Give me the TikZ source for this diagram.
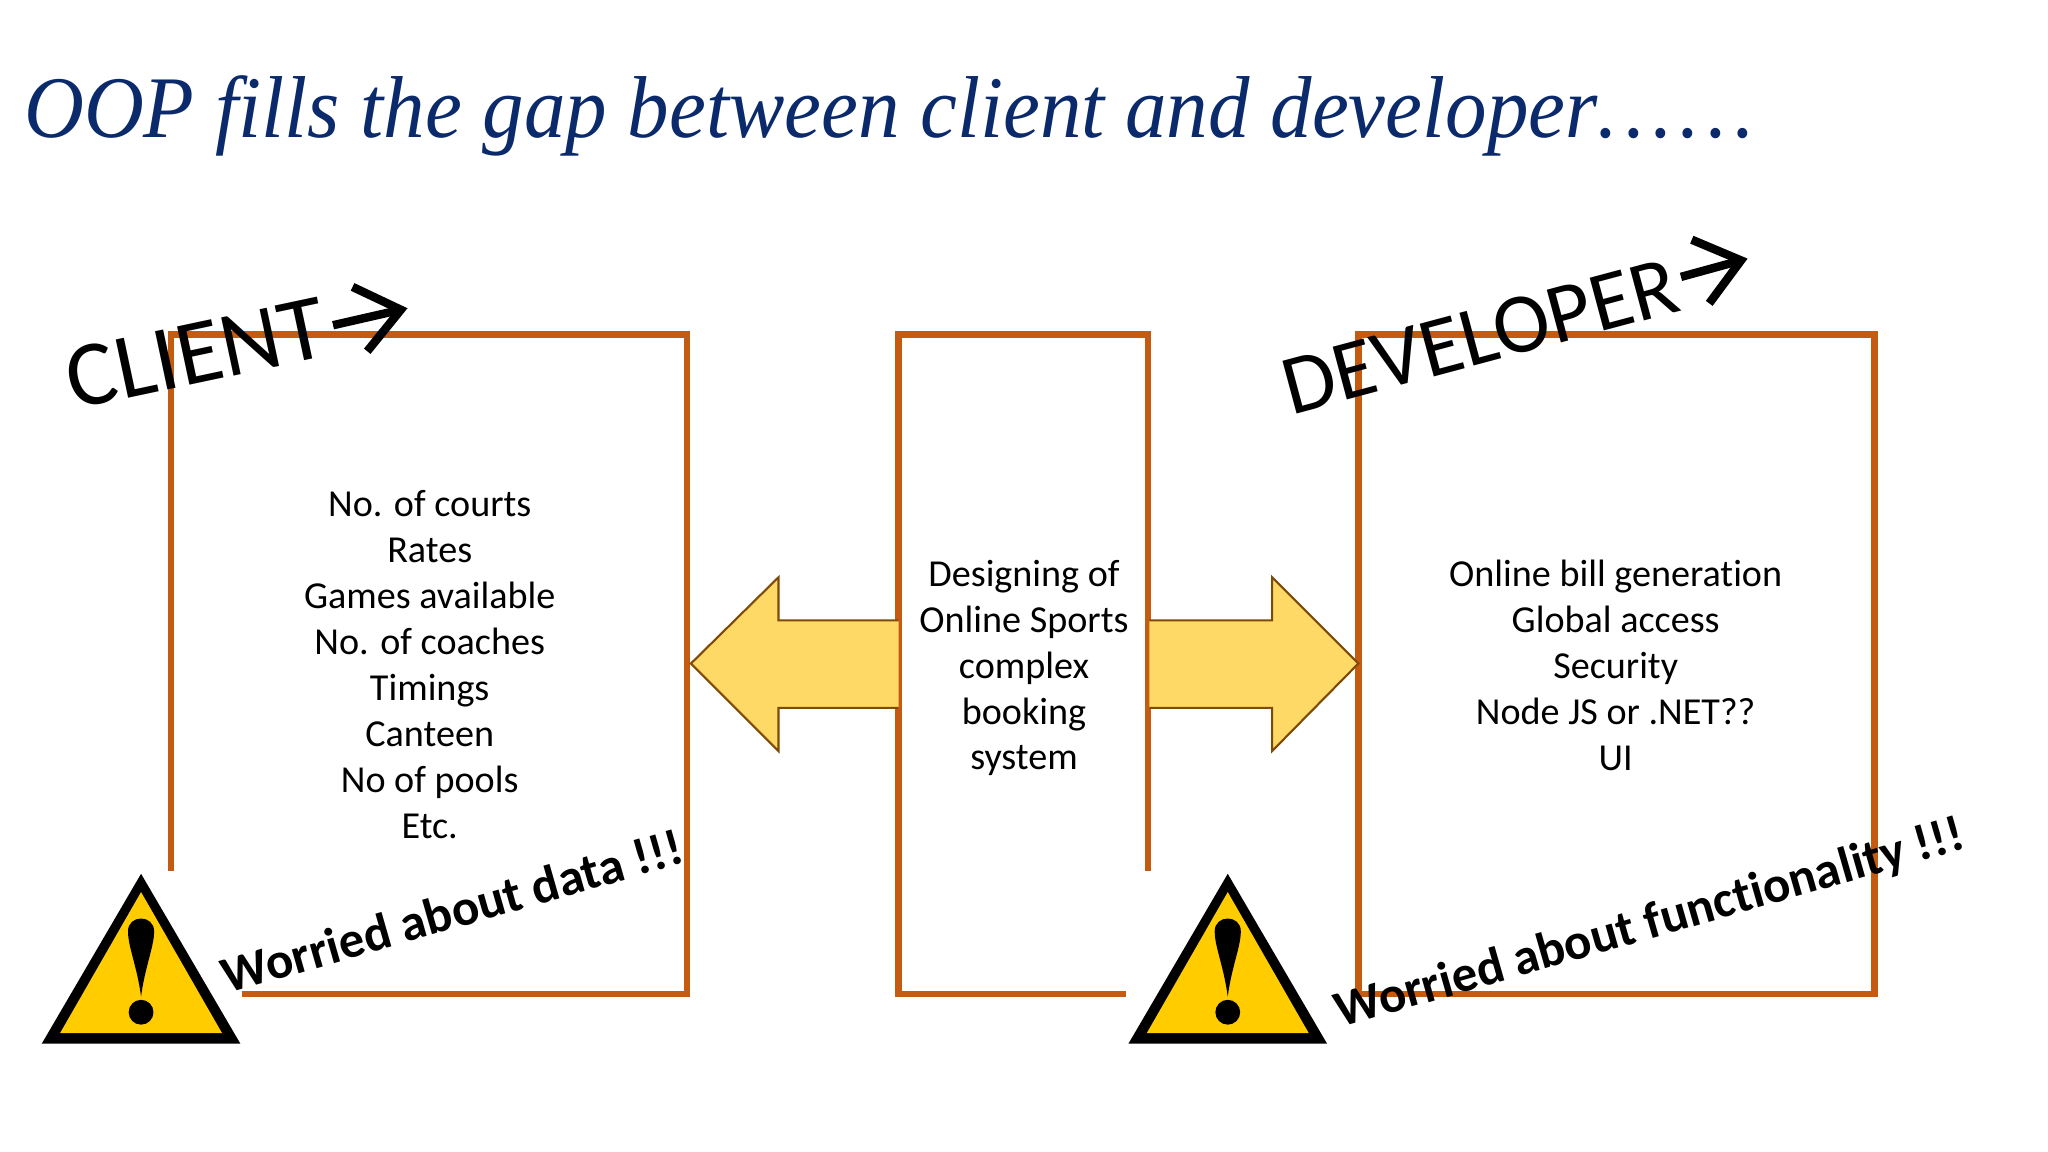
\documentclass[tikz,border=0pt]{standalone}
\usepackage{fontspec}
\setmainfont[Ligatures=NoCommon]{Carlito}
\newfontfamily\titlefont{Liberation Serif}
\usepackage{xcolor}
\definecolor{boxorange}{HTML}{C55A11}
\definecolor{arrowfill}{HTML}{FFD966}
\definecolor{arrowline}{HTML}{7F4A08}
\definecolor{signyellow}{HTML}{FFCC00}
\definecolor{titleblue}{HTML}{0B2A6B}
\usetikzlibrary{positioning,arrows.meta}
\tikzset{
	boxline/.style={line width=1.9pt, boxorange, line join=miter},
	sidearrow/.style={draw=arrowline, fill=arrowfill, line width=0.6pt},
	listtext/.style={align=center, inner sep=0pt, font=\fontsize{10.85}{13.07}\selectfont},
	rolelabel/.style={anchor=base west, inner sep=0pt},
	rolearrow/.style={line width=2.4pt, -{Straight Barb[length=4.2mm, width=6.6mm, line width=2.4pt]}},
	worrytext/.style={anchor=base west, inner sep=0pt, rotate=16, font=\fontsize{14.5}{17}\selectfont\bfseries}
}
\begin{document}
\begin{tikzpicture}[x=0.013061cm, y=-0.013061cm]
	\useasboundingbox (0,0) rectangle (1568,882);
	\fill[white] (0,0) rectangle (1568,882);
	\node[anchor=base west, inner sep=0pt, text=titleblue, font=\fontsize{25}{30}\selectfont\titlefont\itshape] (title) at (18,105) {\scalebox{0.944}[1]{OOP fills the gap between client and developer{\addfontfeatures{LetterSpace=8}......}}};
	% boxes, open where the signs sit
	\draw[boxline] (185,761) -- (526,761) -- (526,256) -- (131,256) -- (131,667);
	\draw[boxline] (862,761) -- (688,761) -- (688,256) -- (879,256) -- (879,667);
	\draw[boxline] (1040,256) rectangle (1435,761);
	% arrows
	\draw[sidearrow] (688,475) -- (596,475) -- (596,442) -- (529,508) -- (596,575) -- (596,542) -- (688,542);
	\draw[sidearrow] (880,475) -- (974,475) -- (974,442) -- (1040,508) -- (974,575) -- (974,542) -- (880,542);
	\node[listtext] (clientlist) at (329,509) {No. of courts\\Rates\\Games available\\No. of coaches\\Timings\\Canteen\\No of pools\\Etc.};
	\node[listtext] (systemlist) at (784,511.5) {Designing of\\Online Sports\\complex\\booking\\system};
	\node[listtext] (devlist) at (1237,509.5) {Online bill generation\\Global access\\Security\\Node JS or .NET??\\UI};
	\node[rolelabel, rotate=12, font=\fontsize{26.4}{32}\selectfont] (clientlabel) at (56,314) {CLIENT};
	\node[rolelabel, rotate=15, font=\fontsize{24.2}{29}\selectfont] (devlabel) at (988,318) {DEVELOPER};
	\coordinate (clienttip) at (312,236);
	\coordinate (devtip) at (1338,198);
	\draw[rolearrow] (255,249) -- (clienttip);
	\draw[rolearrow] (1287,212) -- (devtip);
	% warning signs
	\foreach \wx in {108,940} {
		\fill[black] (\wx,669) -- (\wx+76,799) -- (\wx-76,799) -- cycle;
		\fill[signyellow] (\wx,683) -- (\wx+62,791) -- (\wx-62,791) -- cycle;
		\fill[black] (\wx,763) .. controls (\wx-3,740) and (\wx-10,725) .. (\wx-10,713) .. controls (\wx-10,700) and (\wx+10,700) .. (\wx+10,713) .. controls (\wx+10,725) and (\wx+3,740) .. (\wx,763) -- cycle;
		\fill[black] (\wx,775) circle [radius=9.5];
	}
	\node[worrytext] (clientworry) at (174,761) {Worried about data !!!};
	\node[worrytext] (devworry) at (1026,787) {Worried about functionality !!!};
\end{tikzpicture}
\end{document}
